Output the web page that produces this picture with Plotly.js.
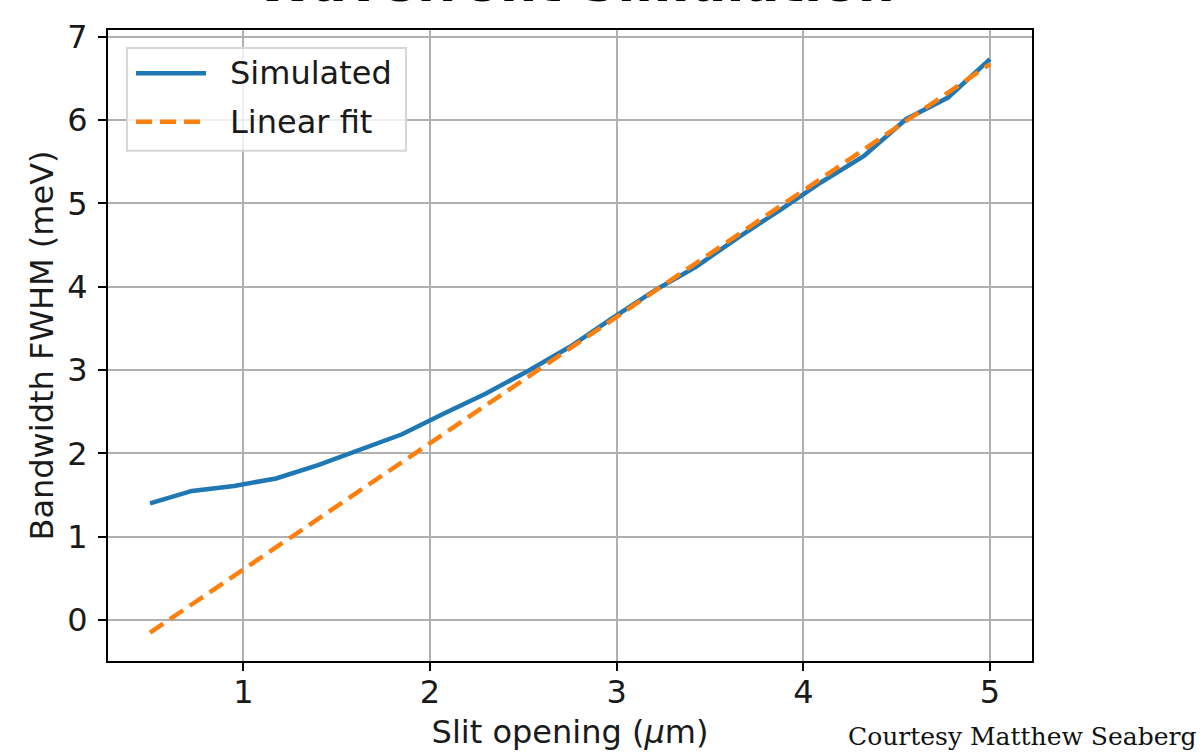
<!DOCTYPE html>
<html>
<head>
<meta charset="utf-8">
<script src="https://cdn.plot.ly/plotly-3.0.1.min.js"></script>
<style>html,body{margin:0;padding:0;background:#fff;}#chart{width:1202px;height:755px;}</style>
</head>
<body>
<div id="chart"></div>
<script>
// Data
const slitOpening = [0.5, 0.725, 0.95, 1.175, 1.4, 1.625, 1.85, 2.075, 2.3, 2.525, 2.75,
                     2.975, 3.2, 3.425, 3.65, 3.875, 4.1, 4.325, 4.55, 4.775, 5.0];
const simulatedFWHM = [1.40, 1.55, 1.61, 1.70, 1.86, 2.05, 2.23, 2.48, 2.72, 2.99, 3.28,
                       3.62, 3.95, 4.24, 4.59, 4.92, 5.26, 5.57, 6.01, 6.27, 6.73];
const fitX = [0.5, 5.0];
const fitY = [-0.15, 6.67];
const seriesNames = ['Simulated', 'Linear fit'];
const titleText = 'Wavefront Simulation';
const xLabel = 'Slit opening (<i>μ</i>m)';
const yLabel = 'Bandwidth FWHM (meV)';
const creditText = 'Courtesy Matthew Seaberg';

const blue = '#1f77b4', orange = '#ff7f0e';
const font = 'DejaVu Sans, sans-serif';
const fs = 32;
const lw = 4.5;

const traces = [
  {x: slitOpening, y: simulatedFWHM, type: 'scatter', mode: 'lines', name: seriesNames[0],
   line: {color: blue, width: lw}, showlegend: false},
  {x: fitX, y: fitY, type: 'scatter', mode: 'lines', name: seriesNames[1],
   line: {color: orange, width: lw, dash: '16px,8px'}, showlegend: false}
];

// legend geometry (paper coords)
const lg = {x0: 0.0206, x1: 0.3225, y0: 0.8087, y1: 0.9715, lx0: 0.0303, lx1: 0.1061, tx: 0.1298, rows: [0.9314, 0.8547]};

const shapes = [
  {type: 'rect', xref: 'paper', yref: 'paper', x0: lg.x0, x1: lg.x1, y0: lg.y0, y1: lg.y1,
   line: {color: '#d6d6d6', width: 2}, fillcolor: 'rgba(255,255,255,0.8)', layer: 'above'},
  {type: 'line', xref: 'paper', yref: 'paper', x0: lg.lx0, x1: lg.lx1, y0: lg.rows[0], y1: lg.rows[0],
   line: {color: blue, width: lw}, layer: 'above'},
  {type: 'line', xref: 'paper', yref: 'paper', x0: lg.lx0, x1: lg.lx1, y0: lg.rows[1], y1: lg.rows[1],
   line: {color: orange, width: lw, dash: '16px,8px'}, layer: 'above'}
];

const annotations = [
  {text: seriesNames[0], xref: 'paper', yref: 'paper', x: lg.tx, y: lg.rows[0], xanchor: 'left', yanchor: 'middle',
   showarrow: false, font: {family: font, size: fs, color: '#1a1a1a'}},
  {text: seriesNames[1], xref: 'paper', yref: 'paper', x: lg.tx, y: lg.rows[1], xanchor: 'left', yanchor: 'middle',
   showarrow: false, font: {family: font, size: fs, color: '#1a1a1a'}},
  {text: creditText, xref: 'paper', yref: 'paper', x: 1.1797, y: -0.1204, xanchor: 'right', yanchor: 'middle',
   showarrow: false, font: {family: 'DejaVu Serif, serif', size: 25, color: '#111'}}
];

const axisCommon = {
  showline: true, linecolor: '#000', linewidth: 2, mirror: true,
  ticks: 'outside', ticklen: 8, tickwidth: 2, tickcolor: '#000',
  showgrid: true, gridcolor: '#b0b0b0', gridwidth: 2, zeroline: false,
  tickfont: {family: font, size: fs, color: '#1a1a1a'}
};

const layout = {
  width: 1202, height: 755,
  margin: {l: 108, r: 170, t: 30, b: 94},
  paper_bgcolor: '#fff', plot_bgcolor: '#fff',
  title: {text: '<b>' + titleText + '</b>', font: {family: font, size: 52, color: '#000'},
          xref: 'paper', x: 0.506, xanchor: 'center', yref: 'container', y: 0.9947, yanchor: 'bottom',
          pad: {b: 3}},
  xaxis: Object.assign({}, axisCommon, {range: [0.275, 5.225], tickmode: 'linear', tick0: 1, dtick: 1,
          ticklabelstandoff: -6,
          title: {text: xLabel, font: {family: font, size: fs, color: '#1a1a1a'}, standoff: 10}}),
  yaxis: Object.assign({}, axisCommon, {range: [-0.49, 7.08], tickmode: 'linear', tick0: 0, dtick: 1,
          ticklabelstandoff: 4,
          title: {text: yLabel, font: {family: font, size: fs, color: '#1a1a1a'}, standoff: 4}}),
  shapes: shapes,
  annotations: annotations,
  showlegend: false
};

Plotly.newPlot('chart', traces, layout, {displayModeBar: false, staticPlot: true});
</script>
</body>
</html>
